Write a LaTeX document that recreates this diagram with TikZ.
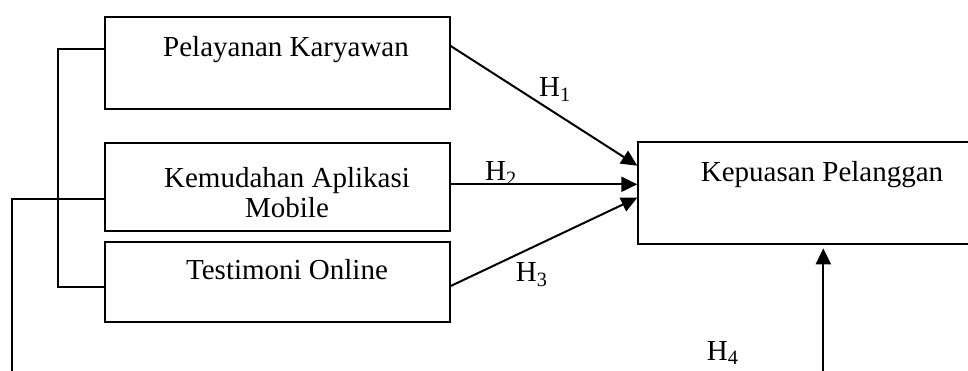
\documentclass[tikz,border=0pt]{standalone}
\usepackage{fontspec}
\setmainfont{Liberation Serif}
\usetikzlibrary{arrows.meta}
\tikzset{
  box/.style={draw, line width=2pt, rectangle, inner sep=0pt},
  txt/.style={inner sep=0pt, anchor=base, align=center, font=\fontsize{29}{30}\selectfont},
  hlab/.style={inner sep=0pt, anchor=base west, font=\fontsize{29}{30}\selectfont},
  conn/.style={line width=2pt},
  arr/.style={line width=2pt, -{Triangle[length=16pt,width=15pt]}}
}
\begin{document}
\begin{tikzpicture}[x=1pt,y=-1pt]
\useasboundingbox (0,0) rectangle (968,370);
\clip (0,0) rectangle (968,370);
% boxes
\node[box, minimum width=344.4pt, minimum height=92.6pt] (b1) at (277.5,63) {};
\node[box, minimum width=344.4pt, minimum height=88pt] (b2) at (277.5,186.7) {};
\node[box, minimum width=344.4pt, minimum height=80pt] (b3) at (277.5,282.3) {};
\node[box, minimum width=345pt, minimum height=101.4pt] (b4) at (810.8,193) {};
% texts
\node[txt] (t1) at (286,56) {Pelayanan Karyawan};
\node[txt] (t2) at (287,217) {Kemudahan Aplikasi\\Mobile};
\node[txt] (t3) at (287,279) {Testimoni Online};
\node[txt] (t4) at (822,181) {Kepuasan Pelanggan};
% left bracket
\coordinate (l1) at (58,49.3);
\coordinate (l3) at (58,286.7);
\draw[conn] (b1.west |- l1) -- (l1) -- (l3) -- (b3.west |- l3);
\coordinate (m2) at (11.7,199.3);
\coordinate (m2b) at (11.7,372);
\draw[conn] (b2.west |- m2) -- (m2) -- (m2b);
% arrows
\draw[arr] (b1.east |- 0,46) -- (b4.west |- 0,165.7);
\draw[arr] (b2.east |- 0,184.3) -- (b4.west |- 0,184.3);
\draw[arr] (b3.east |- 0,286) -- (b4.west |- 0,197.7);
\coordinate (h4s) at (823.3,372);
\draw[arr] (h4s) -- ([yshift=-3.6pt]b4.south -| h4s);
% labels
\node[hlab] (h1) at (539,96.7) {H\textsubscript{1}};
\node[hlab] (h2) at (485,180.7) {H\textsubscript{2}};
\node[hlab] (h3) at (515.7,281.7) {H\textsubscript{3}};
\node[hlab] (h4) at (706.7,360) {H\textsubscript{4}};
\end{tikzpicture}
\end{document}
